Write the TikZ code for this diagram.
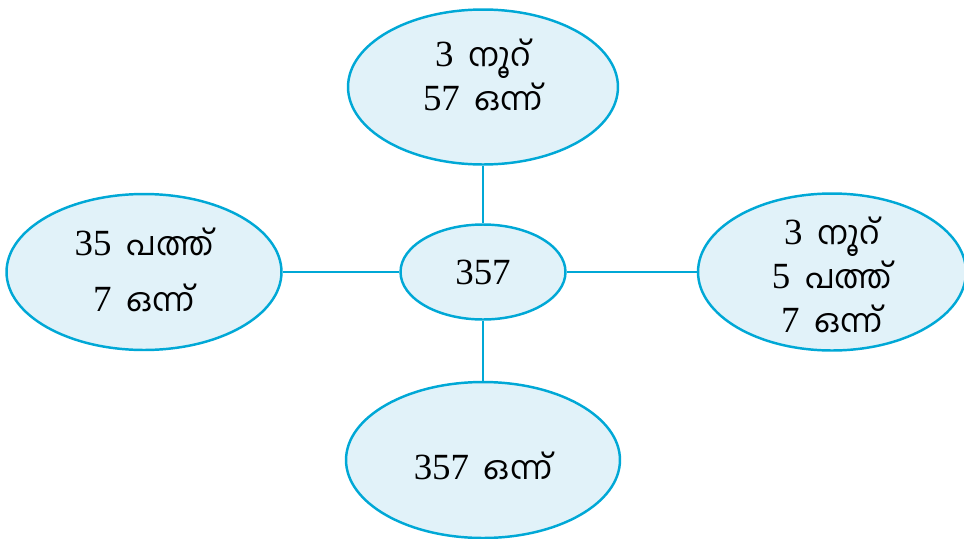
\documentclass[tikz,border=0pt]{standalone}
\usepackage{fontspec}
\setmainfont{Liberation Serif}
\newfontfamily\mlfont[Script=Malayalam,Scale=0.88]{Hind Kochi}
\usetikzlibrary{shapes.geometric}
\definecolor{rimblue}{RGB}{0,168,214}
\definecolor{bubblefill}{RGB}{225,242,249}
\newcommand{\ml}[1]{\hspace{0.4em}{\mlfont #1}}

\begin{document}
\begin{tikzpicture}[x=0.02cm,y=-0.02cm]
\useasboundingbox (0,0) rectangle (964,538);
\begin{scope}[every node/.style={ellipse,draw=rimblue,fill=bubblefill,line width=1.4pt,inner sep=0pt}]
    \node[minimum width=3.3cm,minimum height=1.9cm] (num) at (483,272) {};
    \node[minimum width=5.4cm,minimum height=3.1cm] (hund) at (483,87) {};
    \node[minimum width=5.5cm,minimum height=3.12cm] (tens) at (144,272) {};
    \node[minimum width=5.36cm,minimum height=3.14cm] (all) at (832,272) {};
    \node[minimum width=5.48cm,minimum height=3.12cm] (ones) at (483,460) {};
\end{scope}

\begin{scope}[every node/.style={align=center,inner sep=0pt,font=\fontsize{21}{25}\selectfont}]
    \node (num text) at (483,272) {357};
    \node (hund text) at (483,75) {3\ml{നൂറ്}\\57\ml{ഒന്ന്}};
    \node (tens text) at (144,270) {35\ml{പത്ത്}\\[7pt]7\ml{ഒന്ന്}};
    \node (all text) at (832,275) {3\ml{നൂറ്}\\5\ml{പത്ത്}\\7\ml{ഒന്ന്}};
    \node (ones text) at (483,466) {357\ml{ഒന്ന്}};
\end{scope}

\begin{scope}[every edge/.style={draw=rimblue,line width=1.4pt}]
    \path [-] (hund) edge (num);
    \path [-] (tens) edge (num);
    \path [-] (num) edge (all);
    \path [-] (num) edge (ones);
\end{scope}
\end{tikzpicture}
\end{document}
